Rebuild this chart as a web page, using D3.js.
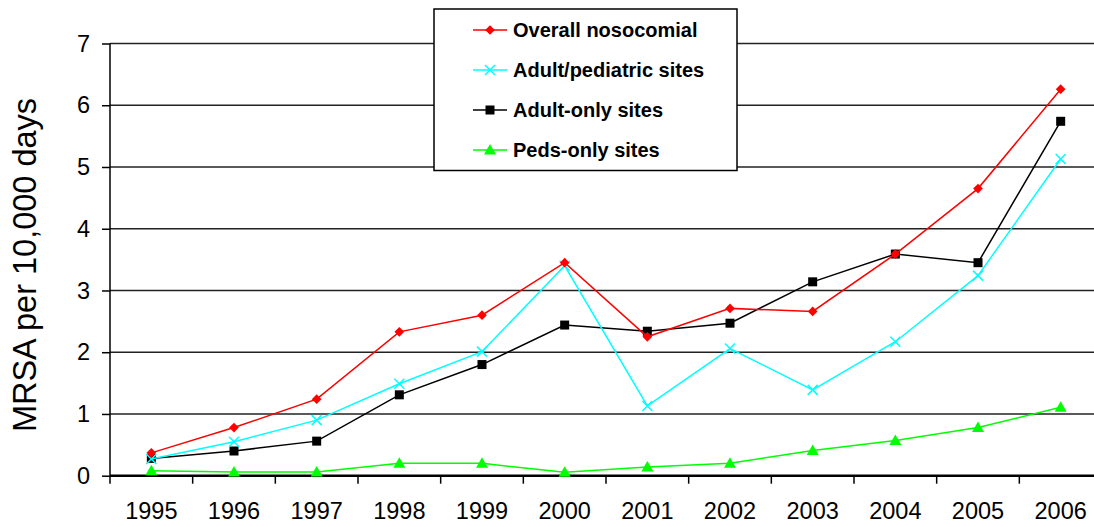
<!DOCTYPE html>
<meta charset="utf-8">
<script src="https://d3js.org/d3.v7.min.js"></script>
<style>
  body { margin: 0; background: #fff; }
  text { font-family: Arial, "Liberation Sans", sans-serif; fill: #000; }
</style>
<body>
<div id="chart"></div>
<script>

// data
var years = ["1995","1996","1997","1998","1999","2000","2001","2002","2003","2004","2005","2006"];
var overall   = [0.37, 0.78, 1.24, 2.33, 2.60, 3.45, 2.25, 2.71, 2.66, 3.59, 4.65, 6.26];
var adultPeds = [0.27, 0.55, 0.90, 1.49, 2.01, 3.40, 1.13, 2.06, 1.39, 2.17, 3.24, 5.13];
var adultOnly = [0.28, 0.40, 0.56, 1.31, 1.80, 2.44, 2.34, 2.47, 3.14, 3.59, 3.45, 5.74];
var pedsOnly  = [0.08, 0.06, 0.06, 0.20, 0.20, 0.055, 0.14, 0.20, 0.41, 0.57, 0.78, 1.11];
var yTicks = [0, 1, 2, 3, 4, 5, 6, 7];

var series = [
  {name: "Overall nosocomial",    values: overall,   color: "#ff0000", symbol: "diamond"},
  {name: "Adult/pediatric sites", values: adultPeds, color: "#00ffff", symbol: "cross"},
  {name: "Adult-only sites",      values: adultOnly, color: "#000000", symbol: "square"},
  {name: "Peds-only sites",       values: pedsOnly,  color: "#00ff00", symbol: "triangle"}
];

var W = 1094, H = 527;
var margin = {left: 110, top: 43.5, bottom: 51.3};
var svg = d3.select("#chart").append("svg")
    .attr("width", W).attr("height", H);

var x = d3.scaleBand().domain(years).range([110, 1102]);
var y = d3.scaleLinear().domain([0, 7]).range([H - margin.bottom, margin.top]);

// gridlines
svg.append("g")
  .selectAll("line")
  .data(yTicks.filter(function(d){ return d > 0; }))
  .enter().append("line")
    .attr("x1", 110).attr("x2", 1102)
    .attr("y1", function(d){ return y(d); })
    .attr("y2", function(d){ return y(d); })
    .style("stroke", "#222")
    .style("stroke-width", 1.5);

// y axis
var yAxis = svg.append("g")
    .attr("transform", "translate(110,0)")
    .call(d3.axisLeft(y).tickValues(yTicks).tickSize(8).tickPadding(12).tickFormat(d3.format("d")));
yAxis.select(".domain").attr("stroke-width", 1.5).attr("d", "M0," + y(0) + "V" + y(7));
yAxis.selectAll(".tick line").attr("stroke-width", 1.5);
yAxis.selectAll("text").style("font-size", "23.5px").attr("fill", "#000");

// x axis: ticks at band boundaries
var xg = svg.append("g").attr("transform", "translate(0," + y(0) + ")");
xg.append("line").attr("x1", 110).attr("x2", 1102)
  .style("stroke", "#000").style("stroke-width", 2.5);
xg.selectAll(".bt")
  .data(years)
  .enter().append("line")
    .attr("class", "bt")
    .attr("x1", function(d){ return x(d); })
    .attr("x2", function(d){ return x(d); })
    .attr("y1", 0).attr("y2", 8)
    .style("stroke", "#000").style("stroke-width", 1.5);
xg.selectAll("text")
  .data(years)
  .enter().append("text")
    .attr("x", function(d){ return x(d) + x.bandwidth() / 2; })
    .attr("y", 43.5)
    .attr("text-anchor", "middle")
    .style("font-size", "23.5px")
    .text(function(d){ return d; });

// y label
svg.append("text")
  .attr("transform", "translate(36," + 265 + ") rotate(-90)")
  .attr("text-anchor", "middle")
  .style("font-size", "32.5px")
  .text("MRSA per 10,000 days");

function drawMarker(g, sym, color, cx, cy) {
  if (sym === "diamond") {
    g.append("path").attr("d", d3.symbol().type(d3.symbolDiamond2).size(60)())
      .attr("transform", "translate(" + cx + "," + cy + ")")
      .attr("fill", color);
  } else if (sym === "square") {
    g.append("rect").attr("x", cx - 4.5).attr("y", cy - 4.5)
      .attr("width", 9).attr("height", 9).attr("fill", color);
  } else if (sym === "triangle") {
    g.append("path").attr("d", "M" + cx + "," + (cy - 6) + "L" + (cx + 6) + "," + (cy + 4.5) + "L" + (cx - 6) + "," + (cy + 4.5) + "Z")
      .attr("fill", color);
  } else {
    g.append("path").attr("d", "M" + (cx - 5) + "," + (cy - 5) + "L" + (cx + 5) + "," + (cy + 5) + "M" + (cx + 5) + "," + (cy - 5) + "L" + (cx - 5) + "," + (cy + 5))
      .attr("stroke", color).attr("stroke-width", 1.5).attr("fill", "none");
  }
}

var line = d3.line()
  .x(function(d, i){ return x(years[i]) + x.bandwidth() / 2; })
  .y(function(d){ return y(d); });

// draw peds first, overall last
series.slice().reverse().forEach(function(s) {
  var g = svg.append("g");
  g.append("path").datum(s.values)
    .attr("d", line)
    .attr("fill", "none")
    .attr("stroke", s.color)
    .attr("stroke-width", 1.5);
  s.values.forEach(function(v, i) {
    drawMarker(g, s.symbol, s.color, x(years[i]) + x.bandwidth() / 2, y(v));
  });
});

// legend
var lg = svg.append("g");
lg.append("rect").attr("x", 434).attr("y", 9).attr("width", 303).attr("height", 161.5)
  .attr("fill", "#fff").attr("stroke", "#000").attr("stroke-width", 1.5);
series.forEach(function(s, i) {
  var cy = 30 + i * 40;
  lg.append("line").attr("x1", 473).attr("x2", 507).attr("y1", cy).attr("y2", cy)
    .attr("stroke", s.color).attr("stroke-width", 1.5);
  drawMarker(lg, s.symbol, s.color, 490, cy);
  lg.append("text").attr("x", 513).attr("y", cy + 7)
    .style("font-size", "20px").style("font-weight", "bold")
    .text(s.name);
});

</script>
</body>
